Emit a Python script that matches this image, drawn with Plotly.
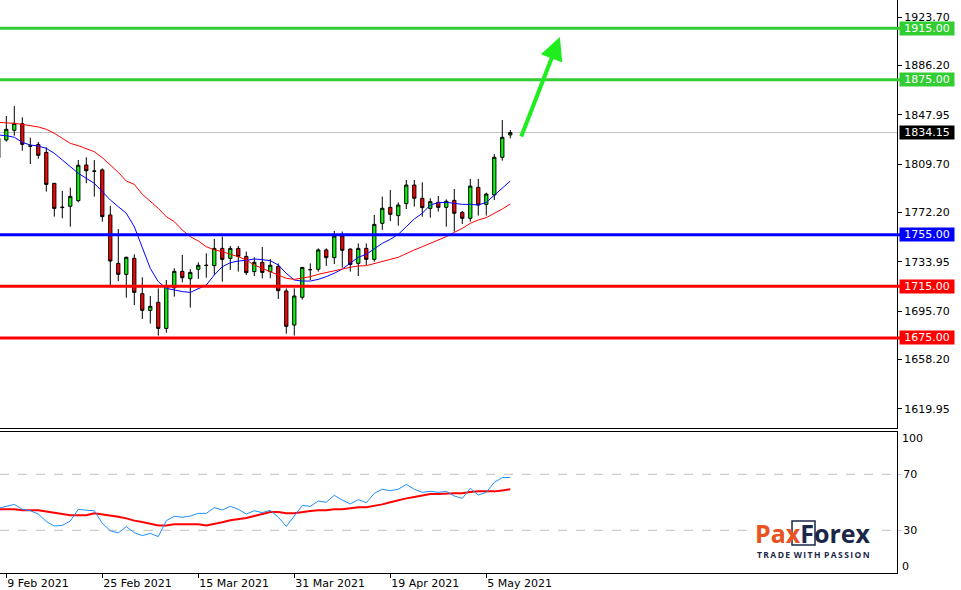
import plotly.graph_objects as go

# ---------------- data ----------------
bar_index = list(range(-1, 64))

opens = [1829.7, 1828.4, 1835.9, 1841.0, 1823.9, 1825.0, 1818.8, 1794.8, 1776.0, 1777.0,
         1781.4, 1809.0, 1804.4, 1805.2, 1770.3, 1732.8, 1724.3, 1736.7, 1709.3, 1696.4,
         1702.6, 1682.4, 1713.9, 1726.6, 1720.9, 1728.2, 1731.1, 1731.0, 1744.4, 1736.7,
         1744.4, 1738.2, 1726.4, 1733.6, 1726.4, 1730.5, 1711.4, 1685.0, 1706.5, 1727.8,
         1728.2, 1743.2, 1737.2, 1754.0, 1743.9, 1732.8, 1744.4, 1735.9, 1763.8, 1776.2,
         1769.8, 1779.1, 1793.5, 1783.2, 1775.4, 1780.1, 1776.2, 1781.6, 1772.3, 1767.7,
         1791.7, 1778.5, 1785.8, 1815.0, 1832.3]
highs = [1832.0, 1847.0, 1854.7, 1846.0, 1830.2, 1826.8, 1822.7, 1795.0, 1788.9, 1791.5,
         1812.9, 1815.0, 1812.9, 1806.4, 1777.3, 1759.4, 1738.0, 1739.8, 1722.0, 1707.5,
         1713.4, 1719.9, 1729.0, 1739.3, 1728.4, 1733.6, 1740.6, 1751.7, 1753.5, 1746.2,
         1746.2, 1741.9, 1737.5, 1745.5, 1736.2, 1732.8, 1713.4, 1713.4, 1729.8, 1732.8,
         1744.4, 1744.4, 1757.9, 1757.4, 1744.4, 1748.3, 1748.3, 1770.3, 1784.5, 1789.6,
         1780.1, 1797.4, 1797.4, 1795.6, 1783.2, 1785.0, 1782.4, 1790.4, 1773.4, 1798.2,
         1798.2, 1787.6, 1817.5, 1843.9, 1836.1]
lows = [1812.0, 1827.1, 1831.7, 1820.1, 1809.8, 1813.9, 1788.4, 1769.0, 1767.7, 1761.2,
        1780.1, 1794.8, 1784.5, 1765.1, 1716.0, 1719.1, 1706.2, 1700.5, 1689.7, 1686.1,
        1676.8, 1679.1, 1707.0, 1718.1, 1698.5, 1720.7, 1721.7, 1723.8, 1718.6, 1727.6,
        1726.4, 1723.8, 1723.0, 1721.2, 1721.2, 1705.2, 1678.3, 1676.8, 1704.7, 1719.9,
        1726.4, 1730.8, 1732.3, 1729.5, 1726.4, 1723.0, 1731.5, 1734.1, 1758.7, 1765.6,
        1762.0, 1774.9, 1776.7, 1769.0, 1768.2, 1772.9, 1761.2, 1757.4, 1763.3, 1765.1,
        1769.8, 1769.8, 1781.9, 1812.4, 1829.7]
closes = [1814.7, 1836.7, 1841.3, 1825.0, 1823.6, 1816.5, 1794.0, 1775.4, 1776.3, 1784.7,
          1808.8, 1804.6, 1804.2, 1769.0, 1734.6, 1724.3, 1737.5, 1710.3, 1696.4, 1699.5,
          1682.4, 1715.5, 1726.6, 1721.7, 1725.8, 1731.3, 1731.3, 1744.4, 1735.9, 1744.4,
          1738.2, 1725.6, 1733.6, 1725.8, 1731.3, 1711.6, 1684.0, 1707.5, 1729.7, 1728.0,
          1743.2, 1737.2, 1754.0, 1742.9, 1732.0, 1744.4, 1735.9, 1763.0, 1775.5, 1770.8,
          1778.0, 1793.5, 1783.2, 1776.0, 1780.6, 1776.2, 1780.9, 1771.6, 1767.7, 1792.7,
          1778.0, 1786.5, 1815.0, 1830.5, 1834.15]

ma_fast = [1832.3, 1831.7, 1830.5, 1826.6, 1824.5, 1823.7, 1821.9, 1818.1, 1812.9, 1807.7,
           1802.6, 1798.7, 1794.8, 1788.4, 1781.9, 1776.7, 1771.6, 1761.2, 1744.4, 1728.9,
           1718.6, 1713.4, 1712.2, 1710.9, 1710.3, 1712.9, 1716.0, 1723.8, 1730.2, 1733.3,
           1734.6, 1735.1, 1736.2, 1735.7, 1734.9, 1731.5, 1725.1, 1719.9, 1719.1, 1719.1,
           1720.4, 1722.5, 1725.1, 1728.4, 1732.8, 1737.5, 1739.8, 1744.4, 1748.3, 1751.4,
           1755.3, 1761.2, 1767.2, 1771.6, 1778.0, 1779.8, 1780.1, 1779.3, 1778.5, 1778.5,
           1778.0, 1780.1, 1785.8, 1790.9, 1796.6]
ma_slow = [1842.1, 1841.8, 1841.3, 1840.5, 1839.5, 1838.5, 1836.7, 1833.6, 1829.7, 1825.8,
           1824.0, 1821.9, 1819.3, 1814.7, 1809.0, 1803.3, 1796.6, 1794.0, 1786.3, 1781.1,
           1775.4, 1769.0, 1765.1, 1758.6, 1753.5, 1750.1, 1745.7, 1743.2, 1741.9, 1739.8,
           1738.0, 1735.4, 1731.5, 1728.9, 1726.4, 1723.8, 1721.2, 1720.4, 1721.2, 1722.5,
           1724.3, 1725.8, 1727.1, 1728.4, 1729.7, 1730.8, 1731.0, 1732.8, 1734.1, 1735.9,
           1737.5, 1740.6, 1743.2, 1745.7, 1748.3, 1750.9, 1753.5, 1756.8, 1759.9, 1763.8,
           1766.4, 1768.2, 1771.3, 1774.9, 1778.8]

rsi = [45.7, 46.9, 48.5, 45.0, 44.0, 41.6, 36.2, 33.1, 33.5, 36.6,
       45.0, 44.3, 44.0, 35.0, 29.7, 28.1, 32.6, 28.3, 26.2, 27.8,
       25.5, 36.9, 40.0, 39.3, 40.2, 42.1, 42.1, 46.2, 44.5, 47.1,
       45.0, 41.6, 44.0, 42.6, 44.3, 39.3, 32.8, 40.2, 47.8, 47.1,
       50.9, 50.0, 55.0, 51.6, 48.8, 51.9, 49.7, 56.4, 59.3, 58.3,
       59.3, 62.8, 59.3, 57.1, 57.8, 57.1, 57.8, 54.5, 52.8, 60.0,
       55.2, 57.1, 64.3, 67.6, 67.8]
rsi_ma = [45.0, 45.0, 45.0, 44.3, 44.3, 44.3, 43.5, 42.8, 41.6, 40.7,
          40.7, 40.7, 42.1, 41.4, 40.7, 39.7, 38.5, 36.9, 35.9, 34.5,
          33.5, 33.5, 34.3, 34.3, 34.3, 34.3, 33.5, 34.5, 35.7, 37.1,
          37.8, 38.8, 40.2, 41.6, 43.1, 43.1, 42.1, 42.1, 43.1, 43.8,
          44.3, 44.3, 45.0, 45.0, 45.7, 46.4, 46.4, 47.4, 48.5, 50.0,
          51.6, 52.8, 53.8, 55.0, 55.9, 55.9, 56.4, 56.4, 56.4, 57.4,
          57.8, 57.8, 57.8, 58.5, 59.3]

date_labels = ["9 Feb 2021", "25 Feb 2021", "15 Mar 2021", "31 Mar 2021", "19 Apr 2021", "5 May 2021"]
date_ticks = [0, 12, 24, 36, 48, 60]

price_ticks = [1923.70, 1886.20, 1847.95, 1809.70, 1772.20, 1733.95, 1695.70, 1658.20, 1619.95]

levels = [1915.00, 1875.00, 1755.00, 1715.00, 1675.00]
level_colors = ["#32CD32", "#32CD32", "#0000FF", "#FF0000", "#FF0000"]
last_price = 1834.15

# ---------------- figure ----------------
X_RANGE = [-0.7875, 111.34]
Y_RANGE = [1605.22, 1936.87]
R_RANGE = [-0.5, 100.2]
FONT = "DejaVu Sans"

fig = go.Figure()

fig.add_trace(go.Candlestick(
    x=bar_index, open=opens, high=highs, low=lows, close=closes,
    increasing=dict(fillcolor="#00FF00", line=dict(color="#000000", width=1)),
    decreasing=dict(fillcolor="#FF0000", line=dict(color="#000000", width=1)),
    hoverinfo="skip", showlegend=False, xaxis="x", yaxis="y"))

fig.add_trace(go.Scatter(x=bar_index, y=ma_fast, mode="lines",
                         line=dict(color="#0000FF", width=1), showlegend=False,
                         hoverinfo="skip", xaxis="x", yaxis="y"))
fig.add_trace(go.Scatter(x=bar_index, y=ma_slow, mode="lines",
                         line=dict(color="#FF0000", width=1), showlegend=False,
                         hoverinfo="skip", xaxis="x", yaxis="y"))

fig.add_trace(go.Scatter(x=bar_index, y=rsi_ma, mode="lines",
                         line=dict(color="#FF0000", width=2), showlegend=False,
                         hoverinfo="skip", xaxis="x2", yaxis="y2"))
fig.add_trace(go.Scatter(x=bar_index, y=rsi, mode="lines",
                         line=dict(color="#1E90FF", width=1), showlegend=False,
                         hoverinfo="skip", xaxis="x2", yaxis="y2"))

shapes = []
# current price line
shapes.append(dict(type="line", xref="paper", x0=0, x1=1, yref="y", y0=last_price, y1=last_price,
                   line=dict(color="#C0C0C0", width=1), layer="below"))
for lv, col in zip(levels, level_colors):
    shapes.append(dict(type="line", xref="paper", x0=0, x1=1.004, yref="y", y0=lv, y1=lv,
                       line=dict(color=col, width=3)))
for lv in [30, 70]:
    shapes.append(dict(type="line", xref="paper", x0=0, x1=1, yref="y2", y0=lv, y1=lv,
                       line=dict(color="#C0C0C0", width=1, dash="dash"), layer="below"))

# logo background
PW, PH = 897.0, 573.0
def px(xp):
    return xp / PW
def py(yp):
    return (PH - yp) / PH
shapes.append(dict(type="rect", xref="paper", yref="paper",
                   x0=px(748), x1=px(878), y0=py(562), y1=py(514),
                   fillcolor="white", line=dict(width=0)))
shapes.append(dict(type="rect", xref="paper", yref="paper",
                   x0=px(792), x1=px(815), y0=py(545), y1=py(521),
                   fillcolor="rgba(0,0,0,0)", line=dict(color="#1B2747", width=1.5)))

annotations = []
for lv, col in zip(levels, level_colors):
    annotations.append(dict(xref="paper", x=1, xanchor="left", xshift=2, yref="y", y=lv,
                            text=f"{lv:.2f}", showarrow=False, bgcolor=col, borderpad=0,
                            width=54, align="center",
                            font=dict(family=FONT, size=11, color="white")))
annotations.append(dict(xref="paper", x=1, xanchor="left", xshift=2, yref="y", y=last_price,
                        text=f"{last_price:.2f}", showarrow=False, bgcolor="#000000", borderpad=0,
                        width=54, align="center",
                        font=dict(family=FONT, size=11, color="white")))
# RSI edge labels
annotations.append(dict(xref="paper", x=1, xanchor="left", xshift=3, yref="y2", y=100,
                        yshift=-6, text="100", showarrow=False,
                        font=dict(family=FONT, size=11, color="black")))
annotations.append(dict(xref="paper", x=1, xanchor="left", xshift=3, yref="y2", y=0,
                        yshift=6, text="0", showarrow=False,
                        font=dict(family=FONT, size=11, color="black")))
# arrow
annotations.append(dict(x=69.2, y=1908.2, ax=64.3, ay=1829.9, xref="x", yref="y",
                        axref="x", ayref="y", text="", showarrow=True, arrowhead=2,
                        arrowsize=1.15, arrowwidth=4, arrowcolor="#1EEE1E", standoff=0))
# logo
annotations.append(dict(xref="paper", yref="paper", x=px(813), y=py(533), xanchor="center",
                        yanchor="middle", showarrow=False,
                        text="<b><span style='color:#E8531F'>Pax</span><span style='color:#1B2747'>Forex</span></b>",
                        font=dict(family="Open Sans", size=25)))
tag = "\u2009".join("TRADE") + " \u2009" + "\u2009".join("WITH") + " \u2009" + "\u2009".join("PASSION")
annotations.append(dict(xref="paper", yref="paper", x=px(813), y=py(554), xanchor="center",
                        yanchor="middle", showarrow=False,
                        text="<b>" + tag + "</b>",
                        font=dict(family="Open Sans", size=8.5, color="#1B2747")))

fig.update_layout(
    width=961, height=590,
    margin=dict(l=0, r=64, t=0, b=17),
    paper_bgcolor="white", plot_bgcolor="white",
    showlegend=False, boxgap=0.42,
    shapes=shapes, annotations=annotations,
    xaxis=dict(domain=[0, 1], range=X_RANGE, anchor="y", showticklabels=False,
               showline=True, linecolor="black", linewidth=1, ticks="",
               showgrid=False, zeroline=False, rangeslider=dict(visible=False),
               fixedrange=True),
    xaxis2=dict(domain=[0, 1], range=X_RANGE, anchor="y2", matches="x",
                showline=True, mirror=True, linecolor="black", linewidth=1,
                ticks="outside", ticklen=4, tickcolor="black",
                tickvals=date_ticks, ticktext=date_labels,
                ticklabelposition="outside right",
                tickfont=dict(family=FONT, size=11, color="black"),
                showgrid=False, zeroline=False, automargin=False),
    yaxis=dict(domain=[(PH - 428) / PH, 1], range=Y_RANGE, side="right", anchor="x",
               showline=True, linecolor="black", linewidth=1,
               ticks="outside", ticklen=4, tickcolor="black",
               tickvals=price_ticks, ticktext=[f"{v:.2f}" for v in price_ticks],
               tickfont=dict(family=FONT, size=11, color="black"),
               showgrid=False, zeroline=False, automargin=False),
    yaxis2=dict(domain=[0, (PH - 432) / PH], range=R_RANGE, side="right", anchor="x2",
                showline=True, linecolor="black", linewidth=1,
                ticks="outside", ticklen=3, tickcolor="#C0C0C0",
                tickvals=[30, 70], ticktext=["30", "70"],
                tickfont=dict(family=FONT, size=11, color="black"),
                showgrid=False, zeroline=False, automargin=False),
)

fig.write_html("out.html", config={"displayModeBar": False},
               post_script="document.body.style.margin='0px';document.body.style.overflow='hidden';")
